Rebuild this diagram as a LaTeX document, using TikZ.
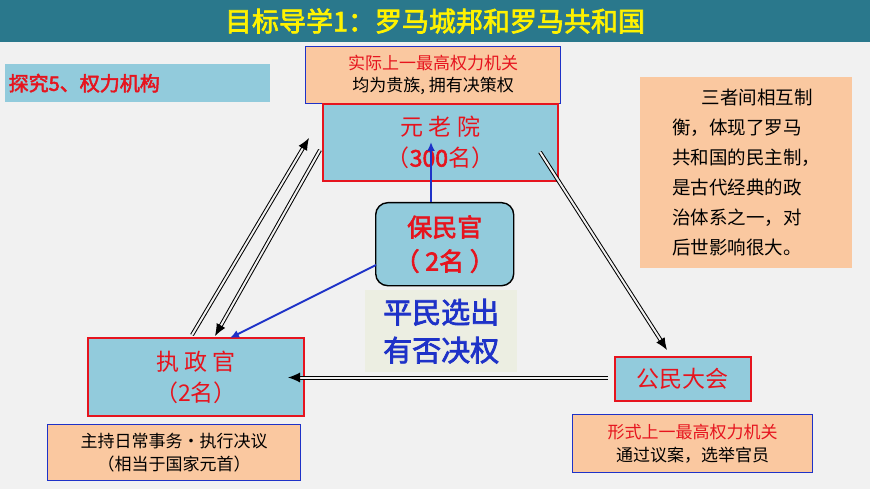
\documentclass[tikz,border=0pt]{standalone}
\usepackage{fontspec}
\setmainfont{Noto Sans CJK SC}[AutoFakeBold=2.5]
\usetikzlibrary{arrows.meta}
\definecolor{bg}{RGB}{241,241,241}
\definecolor{teal}{RGB}{42,120,140}
\definecolor{lb}{RGB}{146,203,220}
\definecolor{org}{RGB}{250,200,160}
\definecolor{rd}{RGB}{230,20,30}
\definecolor{bl}{RGB}{30,50,200}
\tikzset{
 inst/.style={draw=rd,line width=1.8pt,fill=lb,text=rd,align=center,inner sep=0},
 note/.style={draw=bl,line width=1.2pt,fill=org,align=center,inner sep=0},
 dbl/.style={draw=black,double=bg,double distance=2pt,line width=1pt,-{Latex[length=12pt,width=10pt]}},
 blu/.style={draw=bl,line width=1.8pt,-{Latex[length=9pt,width=8pt]}}
}
\begin{document}
\begin{tikzpicture}[x=1pt,y=-1pt]
\useasboundingbox (0,0) rectangle (870,489);
\fill[bg] (0,0) rectangle (870,489);
\fill[teal] (0,0) rectangle (870,42);
\node (title) at (435,21) {\fontsize{27}{29}\selectfont\bfseries\color{yellow}目标导学1：罗马城邦和罗马共和国};
\node[fill=lb,minimum width=265,minimum height=38,anchor=north west,text=rd,font=\fontsize{20}{22}\selectfont\bfseries,text width=258,align=left] (tj) at (5,64) {探究5、权力机构};
\node[note,minimum width=255,minimum height=57,anchor=north west,font=\fontsize{17}{22}\selectfont] (n1) at (305,46) {\textcolor{rd}{实际上一最高权力机关}\\均为贵族, 拥有决策权};
\node[inst,minimum width=235,minimum height=77,anchor=north west,font=\fontsize{23}{31}\selectfont] (sen) at (322,103) {元 老 院\\（\textbf{300}名）};
\node[fill=org,minimum width=212,minimum height=191,anchor=north west,align=left,inner sep=0,font=\fontsize{18.5}{30}\selectfont] (rn) at (640,77) {\hspace{1.6em}三者间相互制\\衡，体现了罗马\\共和国的民主制，\\是古代经典的政\\治体系之一，对\\后世影响很大。};
\node[draw=black,line width=1.4pt,rounded corners=12pt,fill=lb,minimum width=138,minimum height=83,anchor=north west,text=rd,align=center,font=\fontsize{25}{34}\selectfont\bfseries] (tri) at (375,202) {保民官\\（ 2名 ）};
\node[fill={rgb,255:red,236;green,238;blue,226},minimum width=152,minimum height=82,anchor=north west,text=bl,align=center,font=\fontsize{29}{38}\selectfont\bfseries] (pm) at (365,290) {平民选出\\有否决权};
\node[inst,minimum width=216,minimum height=78,anchor=north west,font=\fontsize{23}{31}\selectfont] (con) at (87,337) {执 政 官\\（2名）};
\node[inst,minimum width=136,minimum height=44,anchor=north west,font=\fontsize{23}{25}\selectfont] (ass) at (614,356) {公民大会};
\node[note,minimum width=253,minimum height=56,anchor=north west,font=\fontsize{17}{23}\selectfont] (n2) at (47,424) {主持日常事务·执行决议\\（相当于国家元首）};
\node[note,minimum width=240,minimum height=58,anchor=north west,font=\fontsize{17}{23}\selectfont] (n3) at (572,414) {\textcolor{rd}{形式上一最高权力机关}\\通过议案，选举官员};
\coordinate (a1) at (192,335); \coordinate (a2) at (309,138);
\coordinate (b1) at (320,150); \coordinate (b2) at (215,336);
\coordinate (c1) at (540,152); \coordinate (c2) at (667,350);
\coordinate (d1) at (608,377.5); \coordinate (d2) at (288,377.5);
\draw[dbl] (a1) -- (a2);
\draw[dbl] (b1) -- (b2);
\draw[dbl] (c1) -- (c2);
\draw[dbl] (d1) -- (d2);
\draw[blu] (431,202) -- (431,142);
\draw[blu] (376,265) -- (230,338);
\end{tikzpicture}
\end{document}
